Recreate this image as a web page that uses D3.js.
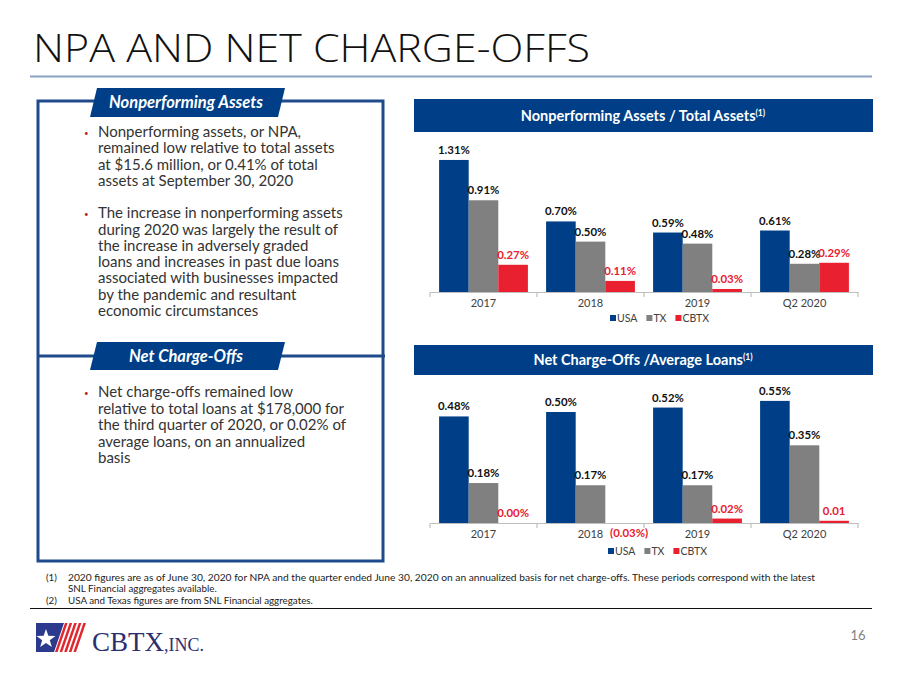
<!DOCTYPE html>
<html>
<head>
<meta charset="utf-8">
<script src="https://cdn.jsdelivr.net/npm/d3@7"></script>
<style>
  html, body { margin: 0; padding: 0; background: #fff; }
  svg { display: block; font-family: Lato, "Open Sans", sans-serif; }
</style>
</head>
<body>
<svg id="chart" width="900" height="675"></svg>
<script>
// ---------- DATA ----------
const categories = ["2017", "2018", "2019", "Q2 2020"];
const seriesNames = ["USA", "TX", "CBTX"];
const npaUSA  = [1.31, 0.70, 0.59, 0.61];
const npaTX   = [0.91, 0.50, 0.48, 0.28];
const npaCBTX = [0.27, 0.11, 0.03, 0.29];
const npaCBTXLabels = ["0.27%", "0.11%", "0.03%", "0.29%"];
const ncoUSA  = [0.48, 0.50, 0.52, 0.55];
const ncoTX   = [0.18, 0.17, 0.17, 0.35];
const ncoCBTX = [0.00, -0.03, 0.02, 0.01];
const ncoCBTXLabels = ["0.00%", "(0.03%)", "0.02%", "0.01"];

const titleText = "NPA AND NET CHARGE-OFFS";
const bullets1 = [
  ["Nonperforming assets, or NPA,", "remained low relative to total assets", "at $15.6 million, or 0.41% of total", "assets at September 30, 2020"],
  ["The increase in nonperforming assets", "during 2020 was largely the result of", "the increase in adversely graded", "loans and increases in past due loans", "associated with businesses impacted", "by the pandemic and resultant", "economic circumstances"]
];
const bullets2 = [
  ["Net charge-offs remained low", "relative to total loans at $178,000 for", "the third quarter of 2020, or 0.02% of", "average loans, on an annualized", "basis"]
];
const footnotes = [
  ["(1)", "2020 figures are as of June 30, 2020 for NPA and the quarter ended June 30, 2020 on an annualized basis for net charge-offs. These periods correspond with the latest"],
  ["", "SNL Financial aggregates available."],
  ["(2)", "USA and Texas figures are from SNL Financial aggregates."]
];

// ---------- STYLE ----------
const NAVY = "#003f87";
const GRAY = "#808080";
const RED = "#e8202f";
const colors = { USA: NAVY, TX: GRAY, CBTX: RED };

const svg = d3.select("#chart");

// Title
svg.append("text").attr("x", 33).attr("y", 62)
  .style("font-family", "'Open Sans', 'DejaVu Sans', sans-serif")
  .attr("font-size", 38).attr("font-weight", 300).attr("fill", "#111")
  .attr("textLength", 557).attr("lengthAdjust", "spacingAndGlyphs")
  .text(titleText);
svg.append("line").attr("x1", 30).attr("x2", 872).attr("y1", 76.5).attr("y2", 76.5)
  .attr("stroke", "#8aa2c4").attr("stroke-width", 2);

// ---------- LEFT PANEL ----------
svg.append("rect").attr("x", 38).attr("y", 101).attr("width", 345).attr("height", 460)
  .attr("fill", "none").attr("stroke", "#1f4b8c").attr("stroke-width", 3);
svg.append("line").attr("x1", 38).attr("x2", 385).attr("y1", 356).attr("y2", 356)
  .attr("stroke", "#1f4b8c").attr("stroke-width", 3);

function tab(y0, y1, label) {
  svg.append("polygon")
    .attr("points", [[97, y0], [285, y0], [278, y1], [90, y1]].map(p => p.join(",")).join(" "))
    .attr("fill", NAVY);
  svg.append("text").attr("x", 186).attr("y", (y0 + y1) / 2 + 5.5)
    .attr("text-anchor", "middle").attr("fill", "#fff")
    .attr("font-size", 16.5).attr("font-weight", 700).attr("font-style", "italic")
    .text(label);
}
tab(88, 117, "Nonperforming Assets");
tab(342, 370, "Net Charge-Offs");

function bulletBlock(items, startY, gap, lh) {
  let y = startY;
  items.forEach(lines => {
    svg.append("text").attr("x", 84).attr("y", y - 1).attr("fill", "#c0282e")
      .attr("font-size", 8).text("•");
    lines.forEach((ln, i) => {
      svg.append("text").attr("x", 98).attr("y", y + i * lh)
        .attr("fill", "#333").attr("font-size", 15).text(ln);
    });
    y += lines.length * lh + gap;
  });
}
bulletBlock(bullets1, 137, 16, 16.3);
bulletBlock(bullets2, 397, 16, 16.5);

// ---------- CHARTS ----------
function drawChart(cfg) {
  const g = svg.append("g");
  g.append("rect").attr("x", 414).attr("y", cfg.headY).attr("width", 459).attr("height", cfg.headH)
    .attr("fill", NAVY);
  const ht = g.append("text").attr("x", 643).attr("y", cfg.headY + cfg.headH / 2 + 5)
    .attr("text-anchor", "middle").attr("fill", "#fff").attr("font-size", 14.5).attr("font-weight", 700);
  ht.append("tspan").text(cfg.title);
  ht.append("tspan").attr("font-size", 8.5).attr("dy", -5).text("(1)");

  const x0 = d3.scaleBand().domain(categories).range([430, 858]).paddingInner(0.17).paddingOuter(0.085);
  const x1 = d3.scaleBand().domain(seriesNames).range([0, x0.bandwidth()]);
  const y = d3.scaleLinear().domain([0, cfg.yMax]).range([cfg.base, cfg.base - cfg.yMax * cfg.ppu]).clamp(true);

  const data = categories.map((c, i) => ({
    cat: c,
    vals: [
      { s: "USA", v: cfg.usa[i], lab: cfg.usa[i].toFixed(2) + "%" },
      { s: "TX", v: cfg.tx[i], lab: cfg.tx[i].toFixed(2) + "%" },
      { s: "CBTX", v: cfg.cbtx[i], lab: cfg.cbtxLabels[i] }
    ]
  }));

  const grp = g.selectAll("g.cat").data(data).join("g").attr("class", "cat")
    .attr("transform", d => `translate(${x0(d.cat)},0)`);
  grp.selectAll("rect").data(d => d.vals).join("rect")
    .attr("x", d => x1(d.s)).attr("width", x1.bandwidth())
    .attr("y", d => y(Math.max(0, d.v)))
    .attr("height", d => Math.abs(y(0) - y(d.v)))
    .attr("fill", d => colors[d.s]);
  grp.selectAll("text.lab").data(d => d.vals).join("text").attr("class", "lab")
    .attr("x", d => x1(d.s) + x1.bandwidth() / 2 + (d.v < 0 ? 9 : 0))
    .attr("y", d => d.v < 0 ? cfg.base + 14 : y(d.v) - 6)
    .attr("text-anchor", "middle")
    .attr("font-size", 11.4).attr("font-weight", 700)
    .attr("fill", d => d.s === "CBTX" ? RED : "#111")
    .text(d => d.lab);

  const ax = g.append("g").attr("transform", `translate(0,${cfg.base})`)
    .call(d3.axisBottom(x0).tickSize(0).tickPadding(7).tickSizeOuter(0));
  ax.select(".domain").attr("stroke", "#bfbfbf").attr("stroke-width", 1.2);
  ax.selectAll("text").attr("font-size", 11).attr("fill", "#404040")
    .style("font-family", "Lato, sans-serif");
  const bounds = categories.map(c => x0(c) - x0.step() * x0.paddingInner() / 2).concat([858]);
  bounds[0] = 430;
  g.selectAll("line.bt").data(bounds).join("line").attr("class", "bt")
    .attr("x1", d => d).attr("x2", d => d).attr("y1", cfg.base).attr("y2", cfg.base + 5)
    .attr("stroke", "#bfbfbf").attr("stroke-width", 1.2);

  const lg = g.append("g").attr("transform", `translate(${cfg.legX},${cfg.legY})`);
  let lx = 0;
  seriesNames.forEach(s => {
    lg.append("rect").attr("x", lx).attr("y", -7).attr("width", 6).attr("height", 6).attr("fill", colors[s]);
    const t = lg.append("text").attr("x", lx + 7).attr("y", 0).attr("font-size", 10.5)
      .attr("fill", "#404040").text(s);
    lx += 7 + t.node().getComputedTextLength() + 9;
  });
}

drawChart({
  title: "Nonperforming Assets / Total Assets", headY: 99, headH: 33,
  base: 292, yMax: 1.4, ppu: 100.8, legX: 610, legY: 322,
  usa: npaUSA, tx: npaTX, cbtx: npaCBTX, cbtxLabels: npaCBTXLabels
});
drawChart({
  title: "Net Charge-Offs /Average Loans", headY: 345, headH: 30,
  base: 523, yMax: 0.6, ppu: 222, legX: 608, legY: 555,
  usa: ncoUSA, tx: ncoTX, cbtx: ncoCBTX, cbtxLabels: ncoCBTXLabels
});

// ---------- FOOTNOTES ----------
const fy = [581, 592, 604];
footnotes.forEach((f, i) => {
  svg.append("text").attr("x", 46).attr("y", fy[i]).attr("font-size", 9.8).attr("fill", "#222").text(f[0]);
  const t = svg.append("text").attr("x", 68).attr("y", fy[i]).attr("font-size", 9.8).attr("fill", "#222").text(f[1]);
  if (i === 0) t.attr("textLength", 747).attr("lengthAdjust", "spacingAndGlyphs");
});
svg.append("line").attr("x1", 30).attr("x2", 872).attr("y1", 608.5).attr("y2", 608.5)
  .attr("stroke", "#111").attr("stroke-width", 1.2);

// ---------- LOGO ----------
const logo = svg.append("g");
logo.append("polygon").attr("points", "36,623 64,623 54,652 36,652").attr("fill", "#2b3a8c");
for (let k = 0; k < 5; k++) {
  const xs = 65 + k * 4.6;
  logo.append("polygon")
    .attr("points", `${xs},623 ${xs + 2.6},623 ${xs + 2.6 - 10},652 ${xs - 10},652`)
    .attr("fill", "#e0262f");
}
const star = d3.range(10).map(i => {
  const r = i % 2 === 0 ? 10 : 4;
  const a = -Math.PI / 2 + i * Math.PI / 5;
  return [46 + r * Math.cos(a), 639 + r * Math.sin(a)];
});
logo.append("polygon").attr("points", star.map(p => p.join(",")).join(" ")).attr("fill", "#fff");
const lt = logo.append("text").attr("x", 92).attr("y", 651).attr("fill", "#2b2f70")
  .style("font-family", "'Liberation Serif', 'DejaVu Serif', serif");
lt.append("tspan").attr("font-size", 27).text("CBTX");
lt.append("tspan").attr("font-size", 18).text(",INC.");

svg.append("text").attr("x", 858).attr("y", 640).attr("text-anchor", "middle")
  .attr("font-size", 13).attr("fill", "#7f7f7f").text("16");
</script>
</body>
</html>
